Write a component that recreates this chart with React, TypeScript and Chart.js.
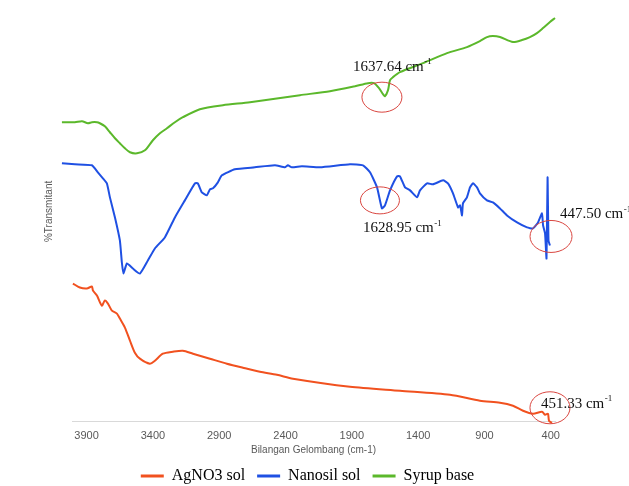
import React, { useEffect, useRef } from "react";
import { Chart, registerables } from "chart.js";

Chart.register(...registerables);

// x-axis ticks (wavenumber, cm-1)
const xTicks = [3900, 3400, 2900, 2400, 1900, 1400, 900, 400];

// AgNO3 sol
const agno3Wn = [4003, 3951, 3898, 3860, 3852, 3822, 3785, 3762, 3739, 3709, 3671, 3649, 3611, 3573, 3536, 3498, 3423, 3385, 3325, 3249, 3174, 3098, 2970, 2842, 2721, 2593, 2465, 2344, 1914, 1537, 1160, 934, 783, 685, 609, 534, 466, 443, 421, 413, 391];
const agno3T = [34.5, 33.5, 33.25, 33.75, 32.75, 31.5, 29, 30.25, 29.5, 27.75, 27, 25.75, 23.5, 20.25, 17.25, 15.75, 14.5, 15.25, 17, 17.5, 17.75, 17, 15.75, 14.5, 13.5, 12.5, 11.75, 10.75, 8.75, 7.75, 6.75, 5.25, 4.75, 4, 2.75, 2, 2.5, 1.75, 2, 0.25, -0.25];

// Nanosil sol
const nanosilWn = [4086, 3988, 3860, 3815, 3777, 3747, 3724, 3686, 3649, 3634, 3622, 3596, 3551, 3498, 3438, 3385, 3310, 3234, 3159, 3083, 3061, 3031, 2993, 2970, 2947, 2910, 2880, 2782, 2631, 2480, 2405, 2382, 2352, 2276, 2140, 1914, 1816, 1763, 1710, 1673, 1650, 1612, 1559, 1537, 1499, 1461, 1408, 1386, 1333, 1288, 1212, 1175, 1137, 1099, 1084, 1069, 1062, 1032, 1009, 986, 956, 934, 881, 836, 783, 730, 654, 579, 534, 496, 466, 458, 443, 432, 424, 417, 406];
const nanosilT = [64.5, 64.25, 64, 62.25, 60.75, 59.5, 56, 51, 45.25, 39.75, 37, 39.5, 38.25, 37, 40.25, 43.25, 46, 51, 55.25, 59.5, 59.5, 57.25, 56.5, 58, 58.25, 59.75, 61.5, 63, 63.5, 64, 63.5, 64, 63.5, 63.75, 63.5, 64.25, 64, 62.25, 58.5, 53.25, 54, 57.75, 61.25, 61.25, 58.5, 57.75, 56, 57.75, 59.5, 59.25, 60.25, 59.5, 57, 53.5, 54, 51.5, 54.5, 56, 58.5, 59.5, 58.5, 57, 55.25, 54.75, 53.25, 51.5, 49.75, 48.5, 48.25, 49.75, 52, 49, 47, 40.75, 61, 45.25, 44];

// Syrup base
const syrupWn = [4086, 3988, 3935, 3890, 3860, 3822, 3800, 3762, 3724, 3686, 3649, 3611, 3573, 3520, 3460, 3400, 3347, 3294, 3234, 3174, 3046, 2872, 2668, 2291, 2065, 1876, 1778, 1733, 1695, 1665, 1650, 1627, 1612, 1590, 1537, 1363, 1182, 1032, 934, 881, 836, 783, 685, 617, 557, 504, 458, 406, 368];
const syrupT = [74.75, 74.75, 75, 74.5, 74.75, 74.75, 74.5, 73.75, 72.25, 70.75, 69.5, 68.25, 67.25, 67, 67.75, 70.25, 72, 73.25, 74.75, 76, 78, 79, 79.75, 81.5, 82.5, 83.75, 84.5, 84.5, 83.25, 81.75, 81.25, 82.75, 85.25, 86, 87.25, 89.5, 92, 93.5, 95, 96, 96.25, 96, 94.75, 95.25, 96, 97, 98.25, 99.75, 100.75];

// Peak annotations
const peakLabels = ["1637.64 cm", "1628.95 cm", "447.50 cm", "451.33 cm"];
const peakCircleWn = [1673, 1688, 398, 406];
const peakCircleT = [81, 55.25, 46.25, 3.5];
const peakTextWn = [1892, 1816, 331, 474];
const peakTextT = [88.5, 48.25, 51.75, 4.5];

const seriesNames = ["AgNO3 sol", "Nanosil sol", "Syrup base"];
const seriesColors = ["#F1511F", "#1F50E3", "#5BB82B"];

const ellipseRadii = [
  [20, 15],
  [19.5, 13.5],
  [21, 16],
  [20, 16],
];

const serif = '"Liberation Serif", "Times New Roman", serif';
const sans = '"Liberation Sans", Arial, sans-serif';

const toPoints = (xs: number[], ys: number[]) => xs.map((x, i) => ({ x, y: ys[i] }));

const peakPlugin = {
  id: "peakPlugin",
  afterDatasetsDraw(chart: any) {
    const ctx = chart.ctx;
    const xs = chart.scales.x;
    const ys = chart.scales.y;
    ctx.save();
    for (let i = 0; i < peakLabels.length; i++) {
      const cx = xs.getPixelForValue(peakCircleWn[i]);
      const cy = ys.getPixelForValue(peakCircleT[i]);
      ctx.beginPath();
      ctx.ellipse(cx, cy, ellipseRadii[i][0], ellipseRadii[i][1], 0, 0, Math.PI * 2);
      ctx.strokeStyle = "#D9453F";
      ctx.lineWidth = 1;
      ctx.stroke();

      const tx = xs.getPixelForValue(peakTextWn[i]);
      const ty = ys.getPixelForValue(peakTextT[i]);
      ctx.fillStyle = "#111111";
      ctx.textAlign = "left";
      ctx.textBaseline = "middle";
      ctx.font = "15px " + serif;
      ctx.fillText(peakLabels[i], tx, ty);
      const w = ctx.measureText(peakLabels[i]).width;
      ctx.font = "9px " + serif;
      ctx.fillText("-1", tx + w + 0.5, ty - 5);
    }
    ctx.restore();
  },
};

export default function App() {
  const ref = useRef<HTMLCanvasElement | null>(null);

  useEffect(() => {
    if (!ref.current) return;
    const chart = new Chart(ref.current, {
      type: "line",
      data: {
        datasets: [
          { label: seriesNames[0], data: toPoints(agno3Wn, agno3T), borderColor: seriesColors[0], backgroundColor: seriesColors[0], borderWidth: 2, pointRadius: 0, tension: 0.25, clip: false as any },
          { label: seriesNames[1], data: toPoints(nanosilWn, nanosilT), borderColor: seriesColors[1], backgroundColor: seriesColors[1], borderWidth: 2, pointRadius: 0, tension: 0.15, clip: false as any },
          { label: seriesNames[2], data: toPoints(syrupWn, syrupT), borderColor: seriesColors[2], backgroundColor: seriesColors[2], borderWidth: 2, pointRadius: 0, tension: 0.25, clip: false as any },
        ],
      },
      options: {
        responsive: false,
        animation: false,
        layout: { padding: { left: 60, right: 74, top: 1, bottom: -8 } },
        plugins: {
          tooltip: { enabled: false },
          legend: {
            position: "bottom",
            labels: {
              boxWidth: 23,
              boxHeight: 3,
              padding: 12,
              color: "#000000",
              font: { size: 16, family: serif },
              generateLabels: (c: any) =>
                Chart.defaults.plugins.legend.labels.generateLabels(c).map((l: any) => ({ ...l, lineWidth: 0, fillStyle: l.strokeStyle })),
            },
          },
        },
        scales: {
          x: {
            type: "linear",
            reverse: true,
            min: 368,
            max: 4010,
            afterBuildTicks: (s: any) => {
              s.ticks = xTicks.map((v) => ({ value: v }));
            },
            ticks: { color: "#595959", font: { size: 11, family: sans }, padding: 8, maxRotation: 0, autoSkip: false, callback: (v: any) => String(v) },
            grid: { display: false, drawTicks: false },
            border: { display: true, color: "#D9D9D9", width: 1 },
            title: { display: true, text: "Bilangan Gelombang (cm-1)", color: "#595959", font: { size: 10, family: sans }, padding: { top: -7, bottom: 0 } },
          },
          y: {
            type: "linear",
            min: 0,
            max: 105,
            ticks: { display: false },
            grid: { display: false, drawTicks: false },
            border: { display: false },
            title: { display: true, text: "%Transmitant", color: "#595959", font: { size: 10, family: sans }, padding: { top: -17, bottom: 0 } },
            afterFit: (s: any) => {
              s.width = 12;
            },
          },
        },
      },
      plugins: [peakPlugin],
    });
    return () => chart.destroy();
  }, []);

  return (
    <div style={{ position: "absolute", left: 0, top: 0, width: 629, height: 486, background: "#ffffff" }}>
      <canvas ref={ref} width={629} height={486} style={{ display: "block" }} />
    </div>
  );
}
